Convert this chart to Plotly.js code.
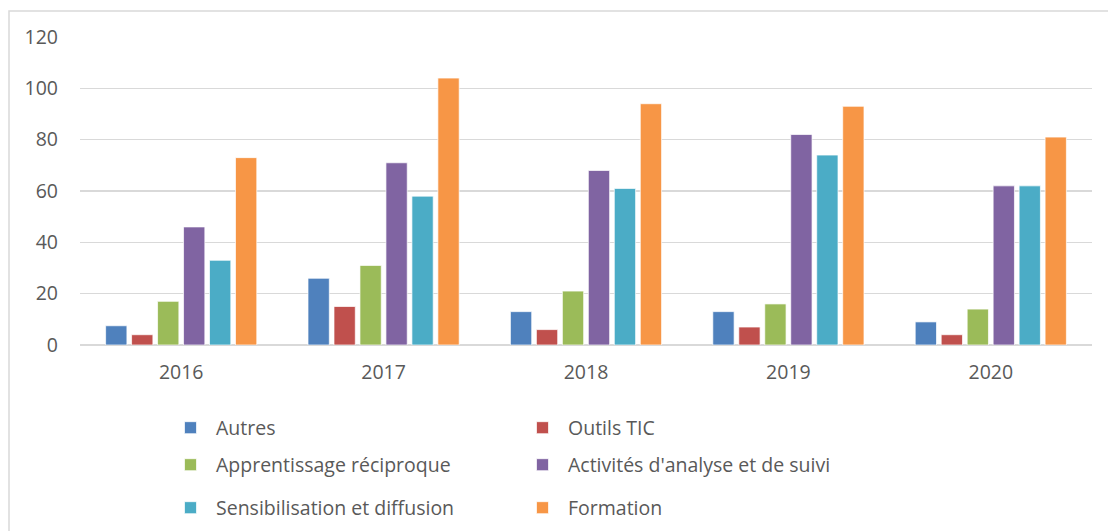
<!DOCTYPE html>
<html>
<head>
<meta charset="utf-8">
<script src="https://cdn.plot.ly/plotly-3.0.1.min.js"></script>
<style>
  html, body { margin: 0; padding: 0; background: #fff; }
  #chart { width: 1108px; height: 531px; }
</style>
</head>
<body>
<div id="chart"></div>
<script>
const years = ['2016', '2017', '2018', '2019', '2020'];
const seriesNames = ['Autres', 'Outils TIC', 'Apprentissage réciproque', "Activités d'analyse et de suivi", 'Sensibilisation et diffusion', 'Formation'];
const autres = [7.5, 26, 13, 13, 9];
const outilsTIC = [4, 15, 6, 7, 4];
const apprentissage = [17, 31, 21, 16, 14];
const activites = [46, 71, 68, 82, 62];
const sensibilisation = [33, 58, 61, 74, 62];
const formation = [73, 104, 94, 93, 81];
const yTicks = [0, 20, 40, 60, 80, 100, 120];

const seriesValues = [autres, outilsTIC, apprentissage, activites, sensibilisation, formation];
const colors = ['#4F81BD', '#C0504D', '#9BBB59', '#8064A2', '#4BACC6', '#F79646'];
const legendIds = ['legend', 'legend', 'legend2', 'legend2', 'legend3', 'legend3'];

const traces = seriesNames.map((name, i) => ({
  type: 'bar',
  name: name,
  x: years,
  y: seriesValues[i],
  legend: legendIds[i],
  marker: { color: colors[i], line: { color: 'rgba(255,255,255,0.7)', width: 1 } },
  hoverinfo: 'x+y+name'
}));

const W = 1108, H = 531;
const font = { family: '"Open Sans", "Noto Sans", sans-serif', size: 19.5, color: '#595959' };

function legendAt(px, py) {
  return {
    orientation: 'h',
    xref: 'container', yref: 'container',
    x: px / W, y: 1 - py / H,
    xanchor: 'left', yanchor: 'middle',
    entrywidth: 296, entrywidthmode: 'pixels',
    itemwidth: 41,
    font: font,
    bgcolor: 'rgba(0,0,0,0)',
    itemclick: false, itemdoubleclick: false
  };
}

const layout = {
  width: W, height: H,
  margin: { l: 80, r: 16, t: 37, b: 186 },
  paper_bgcolor: '#ffffff',
  plot_bgcolor: '#ffffff',
  font: font,
  showlegend: true,
  barmode: 'group',
  bargap: 0.23,
  bargroupgap: 0.18,
  xaxis: {
    type: 'category',
    showgrid: false,
    showline: false,
    zeroline: false,
    ticks: '',
    ticklabelstandoff: 13,
    tickfont: font
  },
  yaxis: {
    range: [0, 120],
    tickvals: yTicks,
    ticktext: yTicks.map(String),
    showgrid: true,
    gridcolor: '#d9d9d9',
    gridwidth: 1.5,
    zeroline: true,
    zerolinecolor: '#d9d9d9',
    zerolinewidth: 1.5,
    showline: false,
    ticks: '',
    ticklabelstandoff: 21,
    tickfont: font
  },
  legend: legendAt(165, 428),
  legend2: legendAt(165, 465),
  legend3: legendAt(165, 508),
  shapes: [{
    type: 'rect',
    xref: 'paper', yref: 'paper',
    x0: (9 - 80) / 1012, x1: (1120 - 80) / 1012,
    y0: (345 - 560) / 308, y1: (345 - 11) / 308,
    line: { color: '#d9d9d9', width: 1.5 },
    fillcolor: 'rgba(0,0,0,0)',
    layer: 'below'
  }]
};

Plotly.newPlot('chart', traces, layout, { displayModeBar: false, staticPlot: true });
</script>
</body>
</html>
